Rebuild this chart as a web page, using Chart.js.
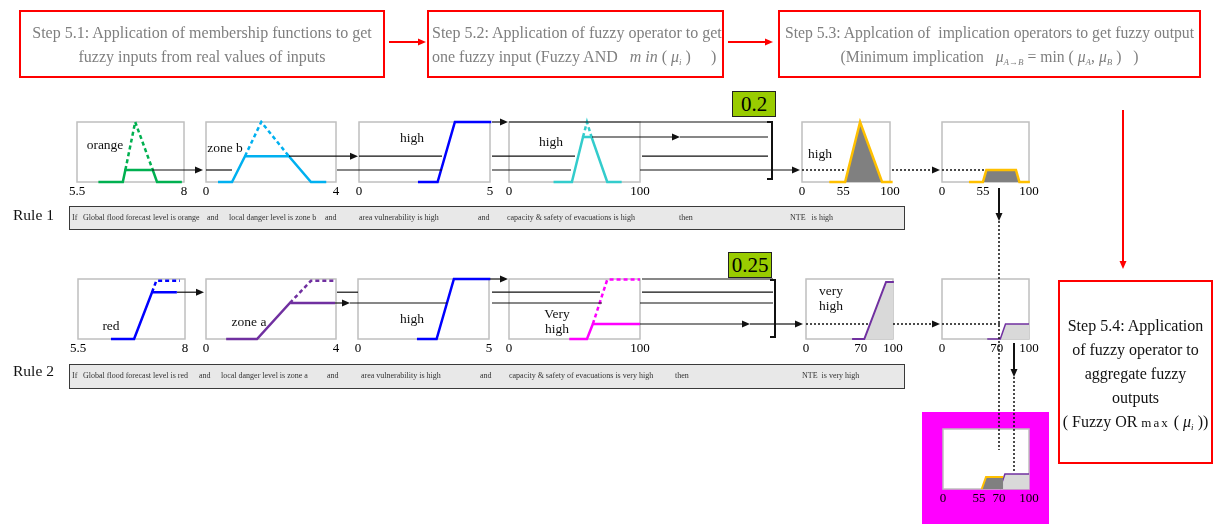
<!DOCTYPE html>
<html>
<head>
<meta charset="utf-8">
<script src="https://cdn.jsdelivr.net/npm/chart.js@4.4.1/dist/chart.umd.min.js"></script>
<style>
  body { margin: 0; background: #fff; }
  #stage { position: relative; width: 1215px; height: 524px; overflow: hidden; font-family: "Liberation Serif", "Times New Roman", serif; }
  .step { position: absolute; box-sizing: border-box; border: 2px solid #f00; color: #7f7f7f; font-size: 16px; line-height: 24px; white-space: nowrap; z-index: 4; }
  .sub { font-size: 9px; vertical-align: -3px; line-height: 0; font-style: italic; }
  .t { position: absolute; white-space: pre; line-height: 1; z-index: 4; }
  .rule { position: absolute; box-sizing: border-box; background: #e8e8e8; border: 1.5px solid #3a3a3a; z-index: 1; }
  .lvl { position: absolute; box-sizing: border-box; background: #99cc00; border: 1px solid #222; font-size: 21px; line-height: 24px; text-align: center; z-index: 4; }
  canvas { z-index: 2; }
  svg { position: absolute; left: 0; top: 0; z-index: 3; }
</style>
</head>
<body>
<div id="stage">
  <div class="step" style="left:19px;top:10px;width:366px;height:68px;padding-top:9px;text-align:center">Step 5.1: Application of membership functions to get<br>fuzzy inputs from real values of inputs</div>
  <div class="step" style="left:427px;top:10px;width:297px;height:68px;padding:9px 0 0 3px">Step 5.2: Application of fuzzy operator to get<br>one fuzzy input (Fuzzy AND &nbsp; <i>m in</i> ( <i>μ</i><span class="sub">i</span> ) &nbsp; &nbsp; )</div>
  <div class="step" style="left:778px;top:10px;width:423px;height:68px;padding-top:9px;text-align:center;font-size:15.7px">Step 5.3: Applcation of &nbsp;implication operators to get fuzzy output<br>(Minimum implication &nbsp; <i>μ</i><span class="sub">A→B</span> = min ( <i>μ</i><span class="sub">A</span>, <i>μ</i><span class="sub">B</span> ) &nbsp; )</div>
  <div class="step" style="left:1058px;top:280px;width:155px;height:184px;padding-top:32px;text-align:center;color:#111">Step 5.4: Application<br>of fuzzy operator to<br>aggregate fuzzy<br>outputs<br>( Fuzzy OR <span style="font-size:13px;letter-spacing:2px">max</span> ( <i>μ</i><span class="sub">i</span> ))</div>

  <div style="position:absolute;left:922px;top:412px;width:127px;height:112px;background:#ff00ff;z-index:1"></div>

  <div class="rule" style="left:69px;top:206px;width:836px;height:24px"></div>
  <div class="rule" style="left:69px;top:364px;width:836px;height:25px"></div>

  <div class="lvl" style="left:732px;top:91px;width:44px;height:26px">0.2</div>
  <div class="lvl" style="left:728px;top:252px;width:44px;height:26px">0.25</div>
</div>

<script>
// x ranges of the small membership plots
const rangeForecast = [5.5, 8];
const rangeDanger = [0, 4];
const rangeVuln = [0, 5];
const rangeCap = [0, 100];
const rangeNte = [0, 100];

// rule 1 : membership functions, cut (solid) and full shape (dashed)
const r1Orange = [[6.0, 0], [6.57, 0], [6.63, 0.2], [7.27, 0.2], [7.37, 0], [7.95, 0]];
const r1OrangeFull = [[6.63, 0.2], [6.86, 1], [7.27, 0.2]];
const r1ZoneB = [[0.37, 0], [0.8, 0], [1.2, 0.43], [2.55, 0.43], [3.23, 0], [3.7, 0]];
const r1ZoneBFull = [[1.2, 0.43], [1.7, 1], [2.55, 0.43]];
const vulnHigh = [[2.25, 0], [3.0, 0], [3.66, 1], [5.05, 1]];
const r1CapHigh = [[34, 0], [48, 0], [56.5, 0.75], [63, 0.75], [75, 0], [86, 0]];
const r1CapHighFull = [[56.5, 0.75], [59.5, 1], [63, 0.75]];
const nteHigh = [[31, 0], [49, 0], [66, 1], [91, 0], [103, 0]];
const nteHighCut = [[31, 0], [47, 0], [51, 0.2], [85, 0.2], [89, 0], [101, 0]];

// rule 2
const r2Red = [[6.27, 0], [6.81, 0], [7.23, 0.78], [7.81, 0.78]];
const r2RedFull = [[7.23, 0.78], [7.33, 0.97], [7.88, 0.97]];
const r2ZoneA = [[0.62, 0], [1.57, 0], [2.58, 0.6], [3.97, 0.6]];
const r2ZoneAFull = [[2.58, 0.6], [3.23, 0.97], [3.97, 0.97]];
const r2CapVeryHigh = [[46, 0], [59.5, 0], [64, 0.25], [100, 0.25]];
const r2CapVeryHighFull = [[64, 0.25], [75, 0.99], [100, 0.99]];
const nteVeryHigh = [[53, 0], [67, 0], [92, 0.95], [101, 0.95]];
const nteVeryHighCut = [[52, 0], [67, 0], [73, 0.25], [100, 0.25]];

// aggregated output
const aggHigh = [[45, 0], [50, 0.2], [70, 0.2]];
const aggVeryHigh = [[66, 0], [72, 0.25], [100, 0.25]];

// output tick labels (placed where the shapes start rising, as in the figure)
const ticksNteHigh = [0, 47, 100];
const labelsNteHigh = ['0', '55', '100'];
const ticksNteVeryHigh = [0, 63, 100];
const labelsNteVeryHigh = ['0', '70', '100'];
const ticksAgg = [0, 42, 65, 100];
const labelsAgg = ['0', '55', '70', '100'];

const stage = document.getElementById('stage');
Chart.defaults.font.family = '"Liberation Serif", "Times New Roman", serif';

const boxPlugin = {
  id: 'box',
  beforeDatasetsDraw(c) {
    const a = c.chartArea, g = c.ctx;
    g.save();
    g.fillStyle = '#fff';
    g.fillRect(a.left, a.top, a.width, a.height);
    g.strokeStyle = '#bfbfbf';
    g.lineWidth = 1.5;
    g.strokeRect(a.left, a.top, a.width, a.height);
    g.restore();
  }
};

function line(d, color, opt = {}) {
  return {
    data: d.map(([x, y]) => ({ x, y })),
    borderColor: color,
    borderWidth: opt.w || 2.5,
    borderDash: opt.dash ? [4, 3] : [],
    pointRadius: 0,
    tension: 0,
    clip: false,
    fill: opt.fill ? 'origin' : false,
    backgroundColor: opt.fill || 'transparent'
  };
}

function mini(box, range, ticks, labels, sets) {
  const pl = 26, pr = 26, pt = 12, pb = 6;
  const W = box.w + pl + pr, H = box.h + pt + 20 + pb;
  const cv = document.createElement('canvas');
  cv.width = W; cv.height = H;
  cv.style.cssText = `position:absolute;left:${box.x - pl}px;top:${box.y - pt}px;width:${W}px;height:${H}px`;
  stage.appendChild(cv);
  const ch = new Chart(cv, {
    type: 'line',
    data: { datasets: sets },
    options: {
      responsive: false,
      animation: false,
      events: [],
      layout: { padding: { left: pl, right: pr, top: pt, bottom: pb } },
      plugins: { legend: { display: false }, tooltip: { enabled: false } },
      scales: {
        x: {
          type: 'linear', min: range[0], max: range[1],
          afterBuildTicks: s => { s.ticks = ticks.map(v => ({ value: v })); },
          afterFit: s => { s.height = 20; },
          grid: { display: false, drawTicks: false },
          border: { display: false },
          ticks: {
            autoSkip: false, maxRotation: 0, padding: 2, color: '#000', font: { size: 13 },
            callback: (v, i) => labels ? labels[i] : String(v)
          }
        },
        y: { display: false, min: 0, max: 1 }
      }
    },
    plugins: [boxPlugin]
  });
  ch.top0 = box.y - pt;
  return ch;
}

// rule 1 row
const r1c1 = mini({ x: 77, y: 122, w: 107, h: 60 }, rangeForecast, rangeForecast, null, [
  line(r1OrangeFull, '#00b050', { dash: true }), line(r1Orange, '#00b050')]);
const r1c2 = mini({ x: 206, y: 122, w: 130, h: 60 }, rangeDanger, rangeDanger, null, [
  line(r1ZoneBFull, '#00b0f0', { dash: true }), line(r1ZoneB, '#00b0f0')]);
const r1c3 = mini({ x: 359, y: 122, w: 131, h: 60 }, rangeVuln, rangeVuln, null, [
  line(vulnHigh, '#0000ff')]);
const r1c4 = mini({ x: 509, y: 122, w: 131, h: 60 }, rangeCap, rangeCap, null, [
  line(r1CapHighFull, '#33cccc', { dash: true }), line(r1CapHigh, '#33cccc')]);
const r1c5 = mini({ x: 802, y: 122, w: 88, h: 60 }, rangeNte, ticksNteHigh, labelsNteHigh, [
  line(nteHigh, '#ffc000', { fill: '#808080' })]);
const r1c6 = mini({ x: 942, y: 122, w: 87, h: 60 }, rangeNte, ticksNteHigh, labelsNteHigh, [
  line(nteHighCut, '#ffc000', { fill: '#808080' })]);

// rule 2 row
const r2c1 = mini({ x: 78, y: 279, w: 107, h: 60 }, rangeForecast, rangeForecast, null, [
  line(r2RedFull, '#0000ff', { dash: true }), line(r2Red, '#0000ff')]);
const r2c2 = mini({ x: 206, y: 279, w: 130, h: 60 }, rangeDanger, rangeDanger, null, [
  line(r2ZoneAFull, '#7030a0', { dash: true }), line(r2ZoneA, '#7030a0')]);
const r2c3 = mini({ x: 358, y: 279, w: 131, h: 60 }, rangeVuln, rangeVuln, null, [
  line(vulnHigh, '#0000ff')]);
const r2c4 = mini({ x: 509, y: 279, w: 131, h: 60 }, rangeCap, rangeCap, null, [
  line(r2CapVeryHighFull, '#ff00ff', { dash: true }), line(r2CapVeryHigh, '#ff00ff')]);
const r2c5 = mini({ x: 806, y: 279, w: 87, h: 60 }, rangeNte, ticksNteVeryHigh, labelsNteVeryHigh, [
  line(nteVeryHigh, '#7030a0', { fill: '#d9d9d9', w: 2 })]);
const r2c6 = mini({ x: 942, y: 279, w: 87, h: 60 }, rangeNte, ticksNteVeryHigh, labelsNteVeryHigh, [
  line(nteVeryHighCut, '#7030a0', { fill: '#d9d9d9', w: 1.5 })]);

// aggregation
const agg = mini({ x: 943, y: 429, w: 86, h: 60 }, rangeNte, ticksAgg, labelsAgg, [
  line(aggHigh, '#ffc000', { fill: '#808080', w: 2 }),
  line(aggVeryHigh, '#7030a0', { fill: '#d9d9d9', w: 1.5 })]);

// level of a cut membership function
const level = d => Math.max(...d.map(p => p[1]));
const yAt = (ch, v) => ch.top0 + ch.scales.y.getPixelForValue(v);

// connectors
const parts = [];
function ln(x1, y1, x2, y2, c = '#111', w = 1.2, dash = '') {
  parts.push(`<line x1="${x1}" y1="${y1}" x2="${x2}" y2="${y2}" stroke="${c}" stroke-width="${w}"${dash ? ` stroke-dasharray="${dash}"` : ''}/>`);
}
function headR(x, y, c = '#111') { parts.push(`<polygon points="${x},${y} ${x - 8},${y - 3.5} ${x - 8},${y + 3.5}" fill="${c}"/>`); }
function headD(x, y, c = '#111') { parts.push(`<polygon points="${x},${y} ${x - 3.5},${y - 8} ${x + 3.5},${y - 8}" fill="${c}"/>`); }
function run(y, segs, dash = '') {
  segs.forEach(([a, b, arr]) => { ln(a, y, arr ? b - 6 : b, y, '#111', dash ? 1.5 : 1.2, dash); if (arr) headR(b, y); });
}
function bracket(x, y1, y2) {
  parts.push(`<polyline points="${x - 5},${y1} ${x},${y1} ${x},${y2} ${x - 5},${y2}" fill="none" stroke="#111" stroke-width="2"/>`);
}

run(yAt(r1c1, level(r1Orange)), [[152, 203, 1], [206, 232], [337, 442], [492, 571], [640, 800, 1]]);
run(yAt(r1c2, level(r1ZoneB)), [[289, 358, 1], [359, 442], [492, 575], [642, 768]]);
run(yAt(r1c3, level(vulnHigh)), [[492, 508, 1], [509, 768]]);
run(yAt(r1c4, level(r1CapHigh)), [[592, 680, 1], [680, 768]]);
bracket(772, 122, 179);
run(yAt(r1c5, level(nteHighCut)), [[802, 845], [892, 940, 1], [942, 985]], '2,2');

run(yAt(r2c1, level(r2Red)), [[177, 204, 1], [337, 358], [492, 600], [642, 773]]);
run(yAt(r2c2, level(r2ZoneA)), [[335, 350, 1], [350, 447], [492, 602], [640, 773]]);
run(yAt(r2c3, level(vulnHigh)), [[490, 508, 1], [642, 773]]);
run(yAt(r2c4, level(r2CapVeryHigh)), [[640, 750, 1], [750, 775], [775, 803, 1]]);
bracket(775, 280, 337);
run(yAt(r2c5, level(nteVeryHighCut)), [[806, 868], [893, 940, 1], [942, 1000]], '2,2');

// vertical arrows to the aggregation
ln(999, 188, 999, 214, '#111', 2); headD(999, 221);
ln(999, 221, 999, 450, '#111', 1.5, '2,2');
ln(1014, 343, 1014, 370, '#111', 2); headD(1014, 377);
ln(1014, 377, 1014, 473, '#111', 1.5, '2,2');

// red step arrows
ln(389, 42, 419, 42, '#f00', 2); headR(426, 42, '#f00');
ln(728, 42, 766, 42, '#f00', 2); headR(773, 42, '#f00');
ln(1123, 110, 1123, 262, '#f00', 2); headD(1123, 269, '#f00');

stage.insertAdjacentHTML('beforeend',
  `<svg width="1215" height="524">${parts.join('')}</svg>`);

// text
function txt(x, y, s, css = '', center = true) {
  const d = document.createElement('div');
  d.className = 't';
  d.innerHTML = s;
  d.style.cssText = `left:${x}px;top:${y}px;transform:translate(${center ? '-50%' : '0'},-50%);${css}`;
  stage.appendChild(d);
}
const lab = 'font-size:13.5px;color:#111';
txt(105, 145, 'orange', lab);
txt(225, 148, 'zone b', lab);
txt(412, 138, 'high', lab);
txt(551, 142, 'high', lab);
txt(820, 154, 'high', lab);
txt(111, 326, 'red', lab);
txt(249, 322, 'zone a', lab);
txt(412, 319, 'high', lab);
txt(557, 321, 'Very\nhigh', lab + ';line-height:15px;text-align:center');
txt(831, 298, 'very\nhigh', lab + ';line-height:15px;text-align:center');

txt(13, 215, 'Rule 1', 'font-size:15.5px;color:#111', false);
txt(13, 371, 'Rule 2', 'font-size:15.5px;color:#111', false);

const ruleCss = 'font-size:8px;color:#333';
[[72, 'If'], [83, 'Global flood forecast level is orange'], [207, 'and'], [229, 'local danger level is zone b'],
 [325, 'and'], [359, 'area vulnerability is high'], [478, 'and'], [507, 'capacity &amp; safety of evacuations is high'],
 [679, 'then'], [790, 'NTE &nbsp; is high']].forEach(([x, s]) => txt(x, 218, s, ruleCss, false));
[[72, 'If'], [83, 'Global flood forecast level is red'], [199, 'and'], [221, 'local danger level is zone a'],
 [327, 'and'], [361, 'area vulnerability is high'], [480, 'and'], [509, 'capacity &amp; safety of evacuations is very high'],
 [675, 'then'], [802, 'NTE &nbsp;is very high']].forEach(([x, s]) => txt(x, 376, s, ruleCss, false));
</script>
</body>
</html>
